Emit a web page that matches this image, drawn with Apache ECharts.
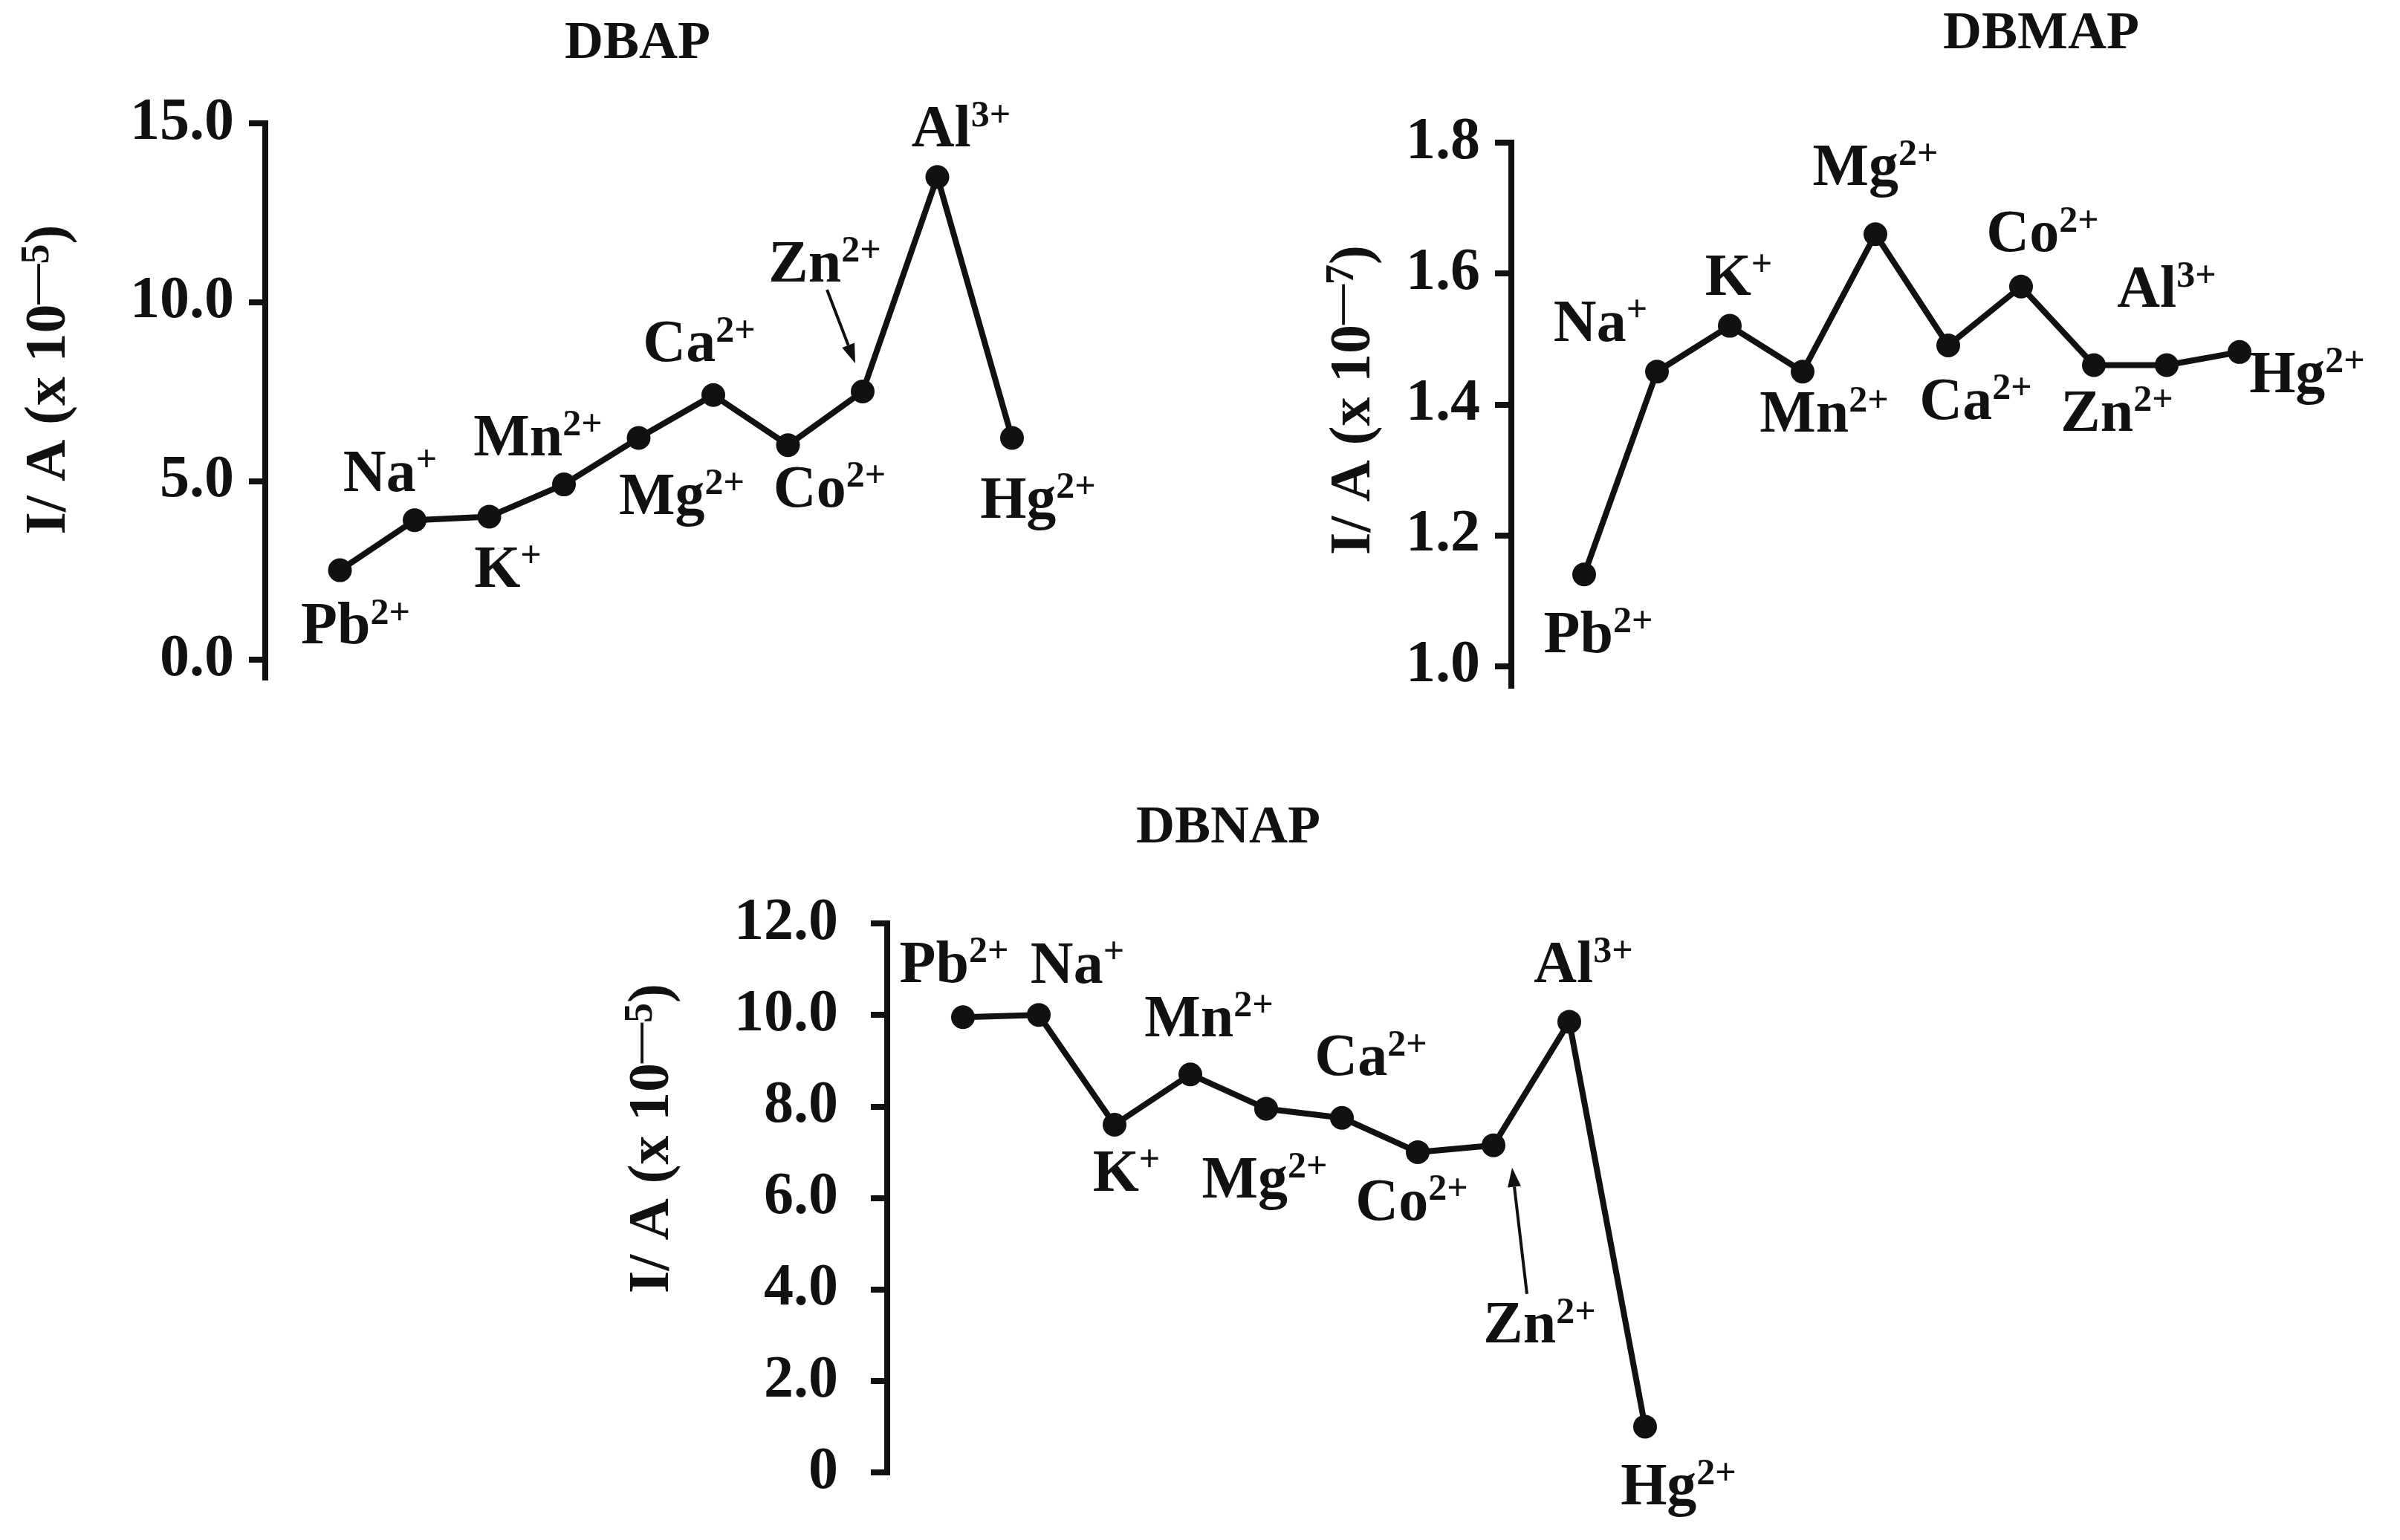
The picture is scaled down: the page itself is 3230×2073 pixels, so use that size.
<!DOCTYPE html>
<html>
<head>
<meta charset="utf-8">
<script src="https://cdn.jsdelivr.net/npm/echarts@6/dist/echarts.min.js"></script>
<style>
  html, body { margin: 0; padding: 0; background: #fff; }
  #chart { width: 3230px; height: 2073px; }
</style>
</head>
<body>
<div id="chart"></div>
<script>
  // ions, same order in all three panels
  const ions = ['Pb', 'Na', 'K', 'Mn', 'Mg', 'Ca', 'Co', 'Zn', 'Al', 'Hg']
  const charges = ['2+', '+', '+', '2+', '2+', '2+', '2+', '2+', '3+', '2+']

  const dbapValues = [2.5, 3.9, 4.0, 4.9, 6.2, 7.4, 6.0, 7.5, 13.5, 6.2]       // x 10^-5
  const dbmapValues = [1.14, 1.45, 1.52, 1.45, 1.66, 1.49, 1.58, 1.46, 1.46, 1.48] // x 10^-7
  const dbnapValues = [9.95, 10.0, 7.6, 8.7, 7.95, 7.75, 7.0, 7.15, 9.85, 1.0]  // x 10^-5

  const dbapTicks = [0, 5, 10, 15]
  const dbmapTicks = [1.0, 1.2, 1.4, 1.6, 1.8]
  const dbnapTicks = [0, 2, 4, 6, 8, 10, 12]

  // label placement (px from the dot centre)
  const dbapLabelOffset = [[21, 78], [-33, -60], [25, 74], [-35, -60], [58, 82], [-19, -66], [56, 62], [-51, -169], [32, -62], [35, 87]]
  const dbmapLabelOffset = [[19, 84], [-76, -62], [12, -62], [29, 60], [0, -87], [37, 78], [29, -68], [31, 68], [0, -99], [91, 33]]
  const dbnapLabelOffset = [[-12, -68], [52, -64], [16, 68], [25, -72], [-2, 99], [39, -78], [-8, 70], [62, 245], [19, -74], [45, 84]]

  const FONT = 'Liberation Serif'
  const INK = '#111'

  const richLabel = {
    n: { fontFamily: FONT, fontWeight: 'bold', fontSize: 80, lineHeight: 88, color: INK, textBorderWidth: 0 },
    s: { fontFamily: FONT, fontWeight: 'bold', fontSize: 50, lineHeight: 50, verticalAlign: 'top', color: INK, textBorderWidth: 0 }
  }
  const richName = {
    n: { fontFamily: FONT, fontWeight: 'bold', fontSize: 78, lineHeight: 86, color: INK },
    s: { fontFamily: FONT, fontWeight: 'bold', fontSize: 54, lineHeight: 54, verticalAlign: 'top', color: INK }
  }

  function ionLabel (i) {
    return '{n|' + ions[i] + '}{s|' + charges[i] + '}'
  }

  function makeSeries (idx, values, offsets) {
    return {
      type: 'line',
      xAxisIndex: idx,
      yAxisIndex: idx,
      data: values.map((v, i) => ({ value: [i + 1, v], label: { offset: offsets[i] } })),
      symbol: 'circle',
      symbolSize: 32,
      clip: false,
      lineStyle: { color: INK, width: 8 },
      itemStyle: { color: INK },
      label: {
        show: true,
        position: 'inside',
        formatter: p => ionLabel(p.dataIndex),
        rich: richLabel
      },
      emphasis: { disabled: true },
      z: 3
    }
  }

  function makeYAxis (idx, min, max, ticks, fmt, name, gap, shift) {
    return {
      type: 'value',
      gridIndex: idx,
      min: min,
      max: max,
      splitLine: { show: false },
      axisLine: { show: true, lineStyle: { color: INK, width: 8, cap: 'square' } },
      axisTick: { show: true, length: 22, customValues: ticks, lineStyle: { color: INK, width: 8 } },
      axisLabel: {
        customValues: ticks,
        formatter: fmt,
        margin: idx === 2 ? 66 : 42,
        fontFamily: FONT,
        fontWeight: 'bold',
        fontSize: 80,
        color: INK
      },
      name: name,
      nameLocation: 'middle',
      nameRotate: 90,
      nameGap: gap,
      nameTextStyle: { padding: [0, 0, 0, shift * 2], rich: richName }
    }
  }

  function makeXAxis (idx) {
    return { type: 'value', gridIndex: idx, min: 0, max: 10, show: false }
  }

  const titleStyle = { fontFamily: FONT, fontWeight: 'bold', fontSize: 72, color: INK }

  const chart = echarts.init(document.getElementById('chart'), null, { renderer: 'canvas' })

  chart.setOption({
    backgroundColor: '#fff',
    animation: false,
    title: [
      { text: 'DBAP', left: 853, top: 18, textAlign: 'center', textStyle: titleStyle },
      { text: 'DBMAP', left: 2742, top: 5, textAlign: 'center', textStyle: titleStyle },
      { text: 'DBNAP', left: 1648, top: 1074, textAlign: 'center', textStyle: titleStyle }
    ],
    grid: [
      { left: 357, top: 166, width: 1005, height: 746, containLabel: false, outerBoundsMode: 'none' },
      { left: 2034, top: 192, width: 980, height: 731, containLabel: false, outerBoundsMode: 'none' },
      { left: 1194, top: 1243, width: 1020, height: 739, containLabel: false, outerBoundsMode: 'none' }
    ],
    xAxis: [makeXAxis(0), makeXAxis(1), makeXAxis(2)],
    yAxis: [
      makeYAxis(0, -0.5, 15, dbapTicks, v => v.toFixed(1), '{n|I/ A (x 10}{s|—5}{n|)}', 247, 28),
      makeYAxis(1, 0.97, 1.8, dbmapTicks, v => v.toFixed(1), '{n|I/ A (x 10}{s|—7}{n|)}', 168, 19),
      makeYAxis(2, 0, 12, dbnapTicks, v => (v === 0 ? '0' : v.toFixed(1)), '{n|I/ A (x 10}{s|—5}{n|)}', 272, 80)
    ],
    series: [
      makeSeries(0, dbapValues, dbapLabelOffset),
      makeSeries(1, dbmapValues, dbmapLabelOffset),
      makeSeries(2, dbnapValues, dbnapLabelOffset)
    ]
  })

  // arrows pointing from the Zn label to its dot
  function arrow (seriesIndex, values, i, from, to) {
    const p = chart.convertToPixel({ seriesIndex: seriesIndex }, [i + 1, values[i]])
    const x1 = p[0] + from[0], y1 = p[1] + from[1]
    const x2 = p[0] + to[0], y2 = p[1] + to[1]
    const ang = Math.atan2(y2 - y1, x2 - x1)
    const L = 26, W = 9
    const bx = x2 - L * Math.cos(ang), by = y2 - L * Math.sin(ang)
    return [
      { type: 'line', shape: { x1: x1, y1: y1, x2: bx, y2: by }, style: { stroke: INK, lineWidth: 4 } },
      {
        type: 'polygon',
        shape: { points: [[x2, y2], [bx - W * Math.sin(ang), by + W * Math.cos(ang)], [bx + W * Math.sin(ang), by - W * Math.cos(ang)]] },
        style: { fill: INK }
      }
    ]
  }

  const zn = ions.indexOf('Zn')
  chart.setOption({
    graphic: [].concat(
      arrow(0, dbapValues, zn, [-48, -137], [-10, -38]),
      arrow(2, dbnapValues, zn, [45, 200], [25, 30])
    )
  })
</script>
</body>
</html>
